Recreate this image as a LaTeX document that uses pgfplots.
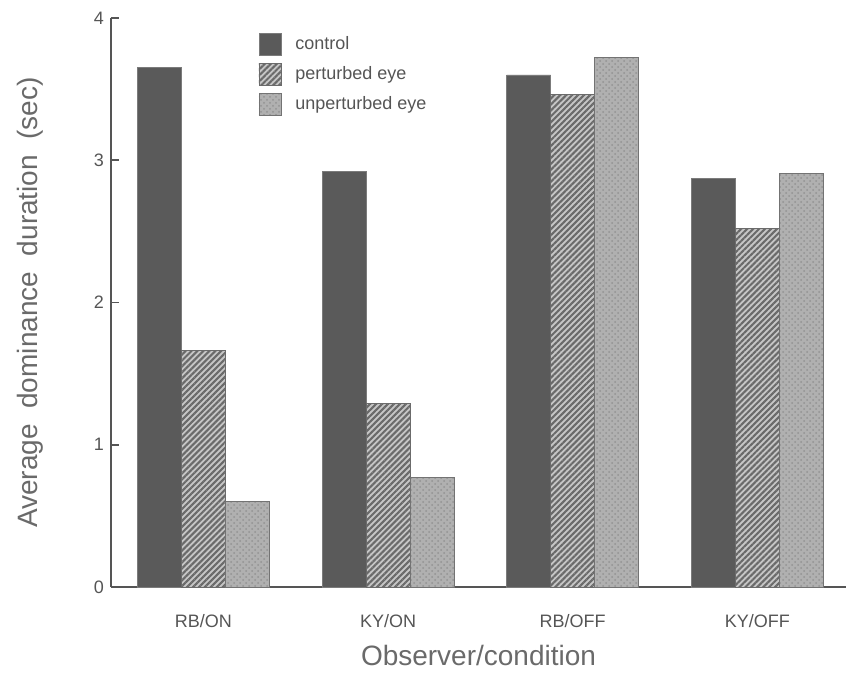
\documentclass[border=0pt]{standalone}
\usepackage{fontspec}
\setmainfont{Liberation Sans}
\usepackage{pgfplots}
\pgfplotsset{compat=1.18}
\usetikzlibrary{patterns,patterns.meta}
\definecolor{ctrl}{HTML}{5A5A5A}
\definecolor{axgray}{HTML}{555555}
\definecolor{txtgray}{HTML}{6A6A6A}
\begin{document}
\begin{tikzpicture}
\begin{axis}[
    scale only axis,
    width=367.5pt, height=284.5pt,
    xmin=-0.5, xmax=3.48,
    ymin=0, ymax=4,
    ytick={0,1,2,3,4},
    xtick={0,1,2,3},
    xticklabels={RB/ON, KY/ON, RB/OFF, KY/OFF},
    axis lines=left,
    axis line style={draw=axgray, line width=0.9pt, -},
    x tick style={draw=none},
    y tick style={draw=axgray, line width=0.9pt},
    tick align=inside,
    major tick length=4pt,
    tick label style={font=\fontsize{9}{10}\selectfont, text=axgray},
    xticklabel style={yshift=-6pt},
    /pgf/number format/assume math mode=true,
    ybar=0pt,
    bar width=22pt,
    xlabel={Observer/condition},
    ylabel={Average\ \ dominance\ \ duration\ \ (sec)},
    label style={font=\fontsize{14}{16}\selectfont, text=txtgray},
    xlabel style={at={(axis description cs:0.5,0)}, anchor=center, yshift=-34pt},
    ylabel style={at={(axis description cs:-0.11,0.5)}, anchor=center},
    legend style={at={(0.192,0.983)}, anchor=north west, draw=none, fill=none,
        font=\fontsize{9}{10}\selectfont, text=axgray,
        row sep=3pt, legend cell align=left,
        /tikz/every odd column/.style={column sep=5pt}},
    legend image code/.code={
        \draw[#1] (0pt,-5.5pt) rectangle (11pt,5.5pt);
    },
]
\addplot[draw=ctrl!80!white, fill=ctrl] coordinates {
    (0,3.65) (1,2.92) (2,3.60) (3,2.87)
};
\addlegendentry{control}
\addplot[draw=ctrl!90!white, fill=gray!45,
    postaction={pattern={Lines[angle=45,distance=2.1pt,line width=1.05pt]}, pattern color=gray!83!black}] coordinates {
    (0,1.66) (1,1.29) (2,3.46) (3,2.52)
};
\addlegendentry{perturbed eye}
\addplot[draw=ctrl!85!white, fill=gray!62,
    postaction={pattern=crosshatch dots, pattern color=gray!85}] coordinates {
    (0,0.60) (1,0.77) (2,3.72) (3,2.91)
};
\addlegendentry{unperturbed eye}
\end{axis}
\pgfresetboundingbox
\path (-55.5pt,-52pt) rectangle (367.5pt,293.5pt);
\end{tikzpicture}
\end{document}
